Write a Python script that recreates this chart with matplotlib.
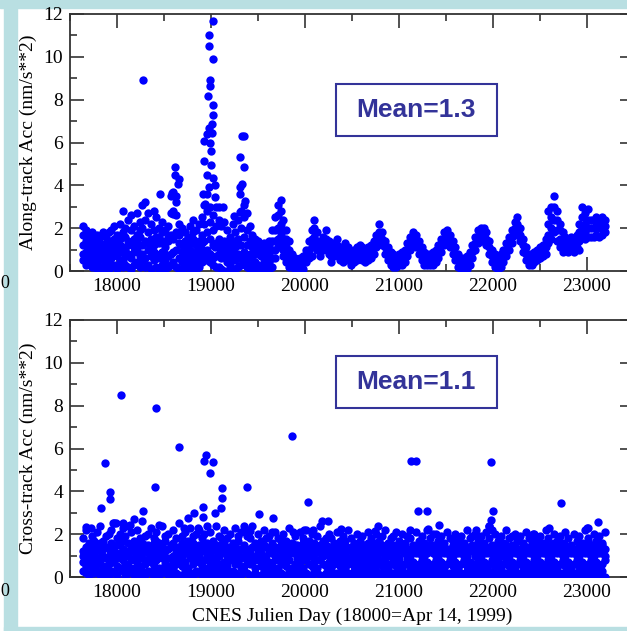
import numpy as np
import matplotlib
matplotlib.use("Agg")
import matplotlib.pyplot as plt
from matplotlib.patches import Rectangle
from matplotlib.ticker import MultipleLocator

plt.rcParams['font.family'] = ['Liberation Serif', 'DejaVu Serif']

# one column of points every 30 days (CNES julian day)
col_days = np.arange(17640, 23220, 30)

# along-track acc, per column, in 0.1 nm/s**2
along_cols = [
    [21, 17, 12, 8, 5], [19, 14, 9, 6, 3], [16, 11, 7, 4, 13], [18, 10, 5, 2, 14], [15, 8, 3, 12, 6],
    [17, 11, 4, 1, 9], [13, 7, 2, 16, 10], [18, 12, 5, 0, 8], [16, 9, 3, 13, 6], [14, 10, 4, 1, 18],
    [19, 12, 6, 2, 9], [15, 8, 3, 11, 21], [13, 7, 1, 17, 10], [22, 15, 9, 4, 12], [28, 18, 11, 5, 2],
    [16, 10, 3, 20, 7], [24, 14, 8, 2, 12], [19, 13, 6, 1, 26], [21, 15, 9, 3, 11], [27, 17, 10, 4, 13],
    [23, 16, 7, 2, 19], [31, 20, 12, 5, 8], [32, 24, 14, 6, 2], [27, 18, 10, 3, 13], [22, 15, 7, 1, 11],
    [28, 19, 12, 5, 9], [25, 16, 8, 2, 13], [20, 13, 6, 1, 16], [23, 14, 9, 3, 18], [19, 11, 5, 1, 8],
    [21, 14, 7, 2, 16], [35, 27, 17, 8, 3], [37, 28, 15, 9, 4], [32, 26, 18, 10, 2], [22, 13, 6, 1, 17],
    [20, 12, 4, 0, 9], [18, 10, 3, 14, 7], [16, 9, 2, 12, 5], [21, 13, 6, 1, 10], [24, 15, 8, 3, 18],
    [19, 12, 5, 1, 9], [22, 14, 7, 2, 11], [25, 17, 10, 4, 13], [31, 22, 14, 8, 5], [36, 28, 18, 10, 5],
    [30, 23, 15, 8, 4], [26, 19, 12, 6, 3], [30, 21, 13, 7, 2], [24, 15, 8, 2, 11], [21, 13, 6, 1, 9],
    [23, 14, 7, 0, 11], [19, 11, 4, 0, 8], [16, 10, 3, 13, 6], [22, 14, 7, 1, 11], [18, 11, 5, 1, 8],
    [24, 15, 8, 2, 12], [28, 20, 12, 6, 3], [31, 25, 16, 9, 4], [27, 19, 12, 6, 2], [21, 14, 8, 3, 1],
    [17, 11, 6, 2, 0], [15, 9, 4, 1, 12], [14, 8, 3, 0, 11], [12, 7, 2, 0, 10], [13, 8, 4, 1, 6],
    [11, 6, 2, 0, 8], [14, 9, 4, 1, 12], [19, 14, 10, 6, 2], [25, 19, 14, 10, 6], [31, 26, 20, 15, 11],
    [33, 28, 22, 17, 12], [24, 19, 14, 10, 7], [19, 15, 11, 7, 4], [14, 10, 7, 4, 2], [8, 5, 2],
    [6, 3, 1], [5, 2, 0], [6, 3, 1], [7, 4, 1], [10, 7, 4],
    [14, 10, 6], [19, 15, 11, 7], [24, 20, 16, 12], [18, 14, 10], [13, 10, 7],
    [16, 13, 10], [19, 15, 11], [14, 11, 8], [10, 7, 4], [13, 10, 7],
    [15, 12, 9], [11, 8, 5], [10, 7, 4], [13, 9, 6], [11, 8, 5],
    [9, 6, 3], [10, 7, 4], [11, 8, 5], [12, 9, 6], [11, 8, 5],
    [10, 7, 4], [11, 8, 5], [12, 9, 6], [14, 11, 8], [17, 14, 11],
    [22, 18, 14], [18, 15, 12], [14, 11, 8], [11, 8, 5], [9, 6, 3],
    [8, 5, 2], [7, 4, 2], [8, 5, 3], [9, 6, 3], [10, 7, 4],
    [13, 10, 7], [16, 13, 10], [18, 15, 12], [17, 14, 11], [14, 11, 8],
    [11, 8, 5], [9, 6, 3], [8, 5, 3], [8, 5, 3], [9, 6, 3],
    [10, 7, 4], [12, 9, 6], [15, 12, 9], [18, 15, 12], [19, 16, 13],
    [17, 14, 11], [14, 11, 8], [11, 8, 5], [8, 5, 2], [6, 3, 1],
    [6, 3, 0], [7, 4, 1], [9, 6, 3], [12, 9, 6], [16, 13, 10],
    [19, 16, 13], [20, 17, 14], [20, 17, 14], [18, 15, 12], [14, 11, 8],
    [10, 7, 4], [8, 5, 2], [7, 4, 1], [8, 5, 2], [10, 7, 4],
    [13, 10, 7], [16, 13, 10], [19, 16, 13], [23, 20, 17], [25, 22, 19],
    [20, 17, 14], [15, 12, 9], [11, 8, 5], [8, 5, 3], [8, 5, 3],
    [9, 6, 4], [10, 7, 5], [11, 8, 6], [12, 9, 7], [15, 11, 8],
    [28, 22, 17, 13], [30, 25, 20, 15], [35, 30, 24, 18], [28, 24, 19, 14], [22, 19, 15, 11],
    [18, 15, 12, 9], [16, 13, 10], [15, 12, 9], [16, 13, 10], [15, 12, 9],
    [17, 14, 11], [22, 18, 14, 10], [30, 25, 20, 16], [27, 22, 18, 15], [29, 24, 20, 16],
    [24, 20, 16], [24, 20, 16], [25, 21, 17], [24, 20, 16], [25, 21, 17],
    [24, 21, 18],
]

# isolated along-track points (day, nm/s**2)
along_spike_days = [18274, 19021, 18983, 18976, 19017, 18987, 18994, 18964, 19021, 19017,
                    19010, 18979, 19010, 18927, 18994, 19002, 18927, 19002, 18961, 19025,
                    19047, 18915, 18934, 19047, 19085, 19123, 18979, 18953,
                    19330, 19349, 19312, 19349, 19330, 19304, 19304, 19357, 19312, 19247,
                    18613, 18621, 18659, 18644, 18587, 18625, 18462, 18594, 19040]
along_spike_vals = [8.9, 11.65, 11.0, 10.5, 9.9, 8.9, 8.65, 8.15, 7.75, 7.3,
                    6.85, 6.7, 6.45, 6.05, 6.0, 5.6, 5.15, 4.95, 4.5, 4.35,
                    4.0, 3.6, 3.15, 3.45, 3.0, 3.0, 3.9, 6.4,
                    6.3, 6.3, 5.3, 4.85, 4.05, 3.9, 3.6, 3.25, 2.75, 2.55,
                    4.85, 4.5, 4.3, 4.05, 3.65, 3.5, 3.6, 2.65, 1.1]

# cross-track acc, per column, in 0.1 nm/s**2
cross_cols = [
    [18, 12, 7, 3, 10], [22, 14, 8, 2, 5], [16, 11, 6, 1, 13], [19, 9, 4, 15, 7], [13, 8, 2, 17, 11],
    [21, 15, 6, 3, 9], [24, 12, 7, 1, 16], [17, 10, 4, 0, 13], [14, 9, 5, 2, 19], [20, 13, 6, 1, 10],
    [16, 11, 3, 8, 22], [25, 14, 7, 2, 12], [18, 10, 5, 1, 15], [15, 9, 4, 20, 11], [23, 13, 8, 3, 17],
    [19, 12, 6, 0, 10], [16, 11, 5, 2, 24], [21, 14, 8, 3, 12], [17, 9, 4, 1, 13], [22, 15, 7, 2, 11],
    [14, 10, 5, 0, 18], [26, 16, 9, 3, 12], [19, 12, 6, 1, 15], [15, 8, 3, 11, 20], [23, 14, 7, 2, 10],
    [18, 11, 5, 0, 16], [21, 13, 8, 3, 17], [16, 10, 4, 1, 12], [24, 15, 9, 2, 11], [17, 12, 6, 3, 19],
    [20, 13, 5, 1, 9], [15, 9, 3, 0, 14], [22, 16, 10, 4, 7], [18, 11, 6, 2, 13], [25, 14, 8, 1, 12],
    [16, 10, 5, 0, 19], [21, 13, 7, 3, 11], [17, 12, 4, 1, 15], [23, 14, 9, 2, 10], [19, 11, 6, 0, 16],
    [14, 8, 3, 12, 20], [22, 15, 7, 2, 10], [18, 12, 5, 1, 13], [20, 13, 8, 3, 16], [16, 10, 4, 0, 24],
    [21, 14, 7, 2, 11], [17, 9, 5, 1, 13], [24, 15, 8, 3, 12], [19, 12, 6, 0, 10], [15, 11, 4, 2, 18],
    [22, 13, 7, 1, 16], [18, 10, 5, 3, 12], [20, 14, 8, 0, 11], [16, 9, 3, 1, 13], [23, 15, 6, 2, 10],
    [17, 12, 7, 0, 19], [21, 13, 4, 1, 9], [15, 10, 5, 3, 14], [19, 11, 8, 2, 22], [18, 12, 6, 0, 13],
    [24, 14, 7, 1, 10], [16, 9, 4, 2, 15], [20, 13, 8, 0, 11], [17, 11, 5, 1, 14], [22, 15, 6, 3, 9],
    [14, 10, 4, 0, 18], [19, 12, 7, 2, 13], [16, 11, 5, 1, 21], [21, 14, 8, 3, 10], [18, 9, 4, 0, 13],
    [15, 12, 6, 2, 17], [20, 13, 7, 1, 10], [17, 10, 5, 0, 14], [23, 14, 8, 3, 11], [16, 11, 4, 1, 12],
    [19, 12, 6, 2, 15], [15, 9, 5, 0, 13], [21, 13, 7, 3, 10], [18, 11, 4, 1, 16], [22, 14, 8, 2, 12],
    [17, 10, 6, 0, 13], [20, 12, 5, 1, 15], [16, 11, 7, 3, 9], [19, 13, 4, 2, 14], [24, 15, 8, 1, 11],
    [17, 10, 6, 0, 13], [15, 12, 5, 2, 18], [20, 14, 7, 1, 10], [18, 9, 4, 3, 13], [16, 11, 6, 0, 15],
    [21, 13, 8, 2, 10], [17, 12, 5, 1, 14], [19, 10, 7, 3, 12], [15, 11, 4, 0, 17], [22, 13, 6, 2, 9],
    [18, 12, 8, 1, 14], [16, 10, 5, 3, 12], [20, 14, 7, 0, 11], [17, 9, 4, 2, 13], [19, 12, 6, 1, 15],
    [15, 11, 8, 3, 10], [21, 13, 5, 0, 16], [18, 10, 7, 2, 12], [16, 12, 4, 1, 14], [20, 14, 6, 3, 9],
    [17, 11, 8, 0, 13], [19, 13, 5, 2, 15], [22, 12, 7, 1, 10], [16, 10, 4, 3, 14], [18, 11, 6, 0, 13],
    [15, 13, 8, 2, 19], [21, 12, 5, 1, 10], [17, 9, 7, 3, 14], [20, 14, 4, 0, 12], [16, 11, 6, 2, 15],
    [19, 13, 8, 1, 10], [18, 10, 5, 3, 22], [15, 12, 7, 0, 13], [21, 14, 4, 2, 11], [17, 11, 6, 1, 16],
    [19, 13, 8, 3, 10], [16, 10, 5, 0, 14], [22, 12, 7, 2, 11], [18, 14, 4, 1, 15], [15, 11, 6, 3, 20],
    [20, 13, 8, 0, 10], [17, 9, 5, 2, 14], [19, 12, 7, 1, 16], [16, 14, 4, 3, 11], [21, 11, 6, 0, 13],
    [18, 13, 8, 2, 10], [15, 10, 5, 1, 17], [20, 12, 7, 3, 14], [17, 14, 4, 0, 11], [19, 11, 6, 2, 15],
    [16, 13, 8, 1, 10], [22, 10, 5, 3, 14], [18, 12, 7, 0, 13], [15, 14, 4, 2, 19], [20, 11, 6, 1, 10],
    [17, 13, 8, 3, 15], [19, 10, 5, 0, 12], [16, 12, 7, 2, 14], [21, 14, 4, 1, 11], [18, 11, 6, 3, 24],
    [15, 13, 8, 0, 22], [20, 10, 5, 2, 14], [17, 12, 7, 1, 16], [19, 14, 4, 3, 10], [16, 11, 6, 0, 13],
    [22, 13, 8, 2, 15], [18, 10, 5, 1, 12], [15, 12, 7, 3, 19], [20, 14, 4, 0, 11], [17, 11, 6, 2, 13],
    [19, 13, 8, 1, 10], [16, 10, 5, 3, 15], [21, 12, 7, 0, 14], [18, 14, 4, 2, 11], [15, 11, 6, 1, 17],
    [20, 13, 8, 3, 10], [17, 10, 5, 0, 14], [19, 12, 7, 2, 13], [16, 14, 4, 1, 11], [22, 11, 6, 3, 15],
    [18, 13, 8, 0, 10], [15, 10, 5, 2, 14], [20, 12, 7, 1, 16], [17, 14, 4, 3, 11], [19, 11, 6, 0, 13],
    [16, 13, 8, 2, 10], [21, 10, 5, 1, 15], [18, 12, 7, 3, 14], [15, 14, 4, 0, 11], [20, 11, 6, 2, 13],
    [17, 13, 8, 1, 10], [19, 10, 5, 3, 15], [16, 12, 7, 0, 14], [22, 14, 4, 2, 11], [18, 11, 6, 1, 17],
    [15, 13, 8, 3, 10], [20, 10, 5, 0, 14], [17, 12, 7, 2, 13], [19, 14, 4, 1, 11], [16, 11, 6, 3, 15],
    [21, 13, 8, 0, 10],
]

cross_out_days = [18047, 18417, 18662, 17877, 18942, 18927, 19021, 18991, 19859, 21123,
                  21180, 21983, 17926, 17926, 17828, 18406, 19115, 19115, 19111, 19387,
                  20036, 22727, 18274, 21206, 21293, 21999, 19511, 19662, 18821, 18757,
                  18919, 18919, 19047, 20180, 20244, 21425, 21980, 20776, 22595, 23010,
                  23112, 17670, 17725, 17953, 17990, 18066, 18140, 18180, 18443, 18715,
                  18866, 19349, 19410, 19870, 19990, 20085, 20387, 20746, 21312, 21821,
                  21953, 22425, 23002]
cross_out_vals = [8.5, 7.9, 6.05, 5.3, 5.7, 5.4, 5.35, 4.85, 6.6, 5.4,
                  5.4, 5.35, 3.95, 3.65, 3.2, 4.2, 4.15, 3.7, 3.2, 4.2,
                  3.5, 3.45, 3.1, 3.1, 3.1, 3.1, 2.95, 2.75, 3.0, 2.75,
                  3.25, 2.8, 3.0, 2.6, 2.6, 2.45, 2.65, 2.4, 2.3, 2.3,
                  2.55, 2.35, 2.3, 2.5, 2.5, 2.5, 2.45, 2.7, 2.45, 2.3,
                  2.3, 2.4, 2.15, 2.1, 2.2, 2.2, 2.25, 2.15, 2.25, 2.2,
                  2.4, 2.0, 2.3]

ylabels = ['Along-track Acc (nm/s**2)', 'Cross-track Acc (nm/s**2)']
mean_labels = ['Mean=1.3', 'Mean=1.1']
xlabel = 'CNES Julien Day (18000=Apr 14, 1999)'


def expand(cols):
    lens = [len(c) for c in cols]
    x = np.repeat(col_days[:len(cols)], lens)
    y = np.concatenate([np.array(c, dtype=float) for c in cols]) / 10.0
    return x, y


along_x, along_y = expand(along_cols)
cross_x, cross_y = expand(cross_cols)
along_x = np.concatenate([along_x, along_spike_days])
along_y = np.concatenate([along_y, along_spike_vals])
cross_x = np.concatenate([cross_x, cross_out_days])
cross_y = np.concatenate([cross_y, cross_out_vals])

W, H = 627, 631
fig = plt.figure(figsize=(W / 100, H / 100), dpi=100)
fig.patch.set_facecolor('white')

# light blue slide frame
frame = '#b9dfe2'
fig.add_artist(Rectangle((0, 1 - 8 / H), 1, 8 / H, transform=fig.transFigure, color=frame, zorder=0))
fig.add_artist(Rectangle((4 / W, 0), 13 / W, 1, transform=fig.transFigure, color=frame, zorder=0))
fig.add_artist(Rectangle((4 / W, 0), 1, 4 / H, transform=fig.transFigure, color=frame, zorder=0))

navy = '#333399'
ax_w = 564 / W
ax_h = 257 / H
rects = [(70 / W, 1 - 271 / H, ax_w, ax_h), (70 / W, 1 - 577 / H, ax_w, ax_h)]
data = [(along_x, along_y), (cross_x, cross_y)]
box_y = [0.525, 0.657]

for k in range(2):
    ax = fig.add_axes(rects[k])
    x, y = data[k]
    ax.scatter(x, y, s=36, c='#0000ff', linewidths=0, zorder=3)
    ax.set_xlim(17500, 23500)
    ax.set_ylim(0, 12)
    ax.xaxis.set_major_locator(MultipleLocator(1000))
    ax.xaxis.set_minor_locator(MultipleLocator(500))
    ax.yaxis.set_major_locator(MultipleLocator(2))
    ax.yaxis.set_minor_locator(MultipleLocator(1))
    ax.tick_params(which='both', direction='in', top=True, right=True,
                   color='#333333', width=1.2, labelsize=14, pad=5)
    ax.tick_params(which='major', length=10)
    ax.tick_params(which='minor', length=5)
    for sp in ax.spines.values():
        sp.set_color('#333333')
        sp.set_linewidth(1.3)
    ax.set_ylabel(ylabels[k], fontsize=14)
    ax.yaxis.label.set_va('center')
    ax.yaxis.set_label_coords(-0.0745, 0.5)
    ax.add_patch(Rectangle((0.4716, box_y[k]), 0.2855, 0.2023, transform=ax.transAxes,
                           fill=False, edgecolor=navy, linewidth=1.5, zorder=4))
    ax.text(0.614, box_y[k] + 0.101, mean_labels[k], transform=ax.transAxes,
            ha='center', va='center', fontsize=19, fontweight='bold',
            family=['Liberation Sans', 'DejaVu Sans'], color=navy, zorder=5)
    if k == 1:
        ax.set_xlabel(xlabel, fontsize=14)
        ax.xaxis.label.set_va('center')
        ax.xaxis.set_label_coords(0.5, -0.152)

# stray tick labels at the left edge of the slide
fig.text(4.5 / W, 1 - 284 / H, '0', fontsize=13, ha='center', va='center', zorder=2)
fig.text(4.5 / W, 1 - 591 / H, '0', fontsize=13, ha='center', va='center', zorder=2)

fig.savefig('out.png', dpi=100)
